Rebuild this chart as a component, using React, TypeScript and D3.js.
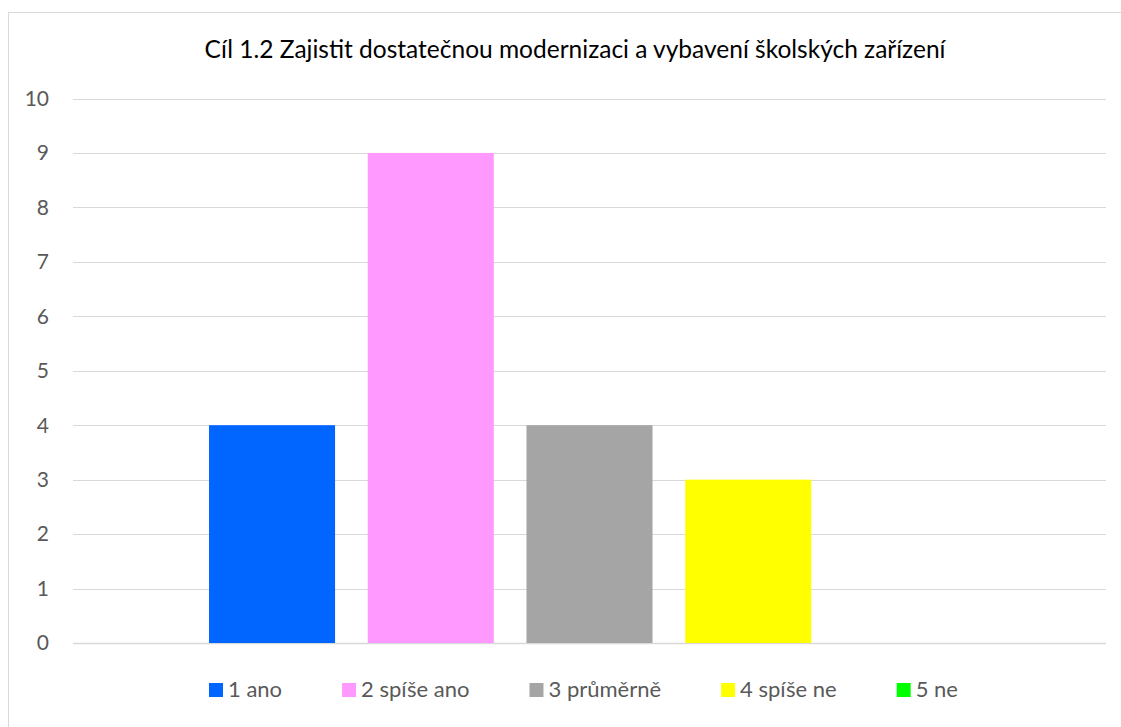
import React, { useEffect, useRef } from 'react';
import * as d3 from 'd3';

const TITLE = 'Cíl 1.2 Zajistit dostatečnou modernizaci a vybavení školských zařízení';
const seriesNames = ['1 ano', '2 spíše ano', '3 průměrně', '4 spíše ne', '5 ne'];
const seriesValues = [4, 9, 4, 3, 0];
const seriesColors = ['#0066ff', '#ff99ff', '#a5a5a5', '#ffff00', '#00ff00'];
const yTicks = [0, 1, 2, 3, 4, 5, 6, 7, 8, 9, 10];

const W = 1121;
const H = 727;
const FONT = 'Lato, "Open Sans", sans-serif';

export default function App() {
  const svgRef = useRef<SVGSVGElement>(null);

  useEffect(() => {
    const svg = d3.select(svgRef.current);
    svg.selectAll('*').remove();

    const plot = { left: 73, right: 1106, top: 98.5, bottom: 643 };

    // chart frame (runs past the window on the right and bottom)
    svg.append('rect')
      .attr('x', 8.5).attr('y', 12.5)
      .attr('width', 1140).attr('height', 740)
      .attr('fill', '#fff').attr('stroke', '#d9d9d9').attr('stroke-width', 1);

    svg.append('text')
      .attr('x', 575).attr('y', 58)
      .attr('text-anchor', 'middle')
      .attr('font-family', FONT).attr('font-size', 24.5)
      .attr('fill', '#000')
      .text(TITLE);

    const y = d3.scaleLinear().domain([0, 10]).range([plot.bottom, plot.top]);
    const x = d3.scaleBand<string>()
      .domain(seriesNames)
      .range([plot.left, plot.right])
      .paddingInner(0.206)
      .paddingOuter(0.857);

    // gridlines
    svg.append('g').selectAll('line').data(yTicks).join('line')
      .attr('x1', plot.left).attr('x2', plot.right)
      .attr('y1', d => Math.round(y(d)) + 0.5).attr('y2', d => Math.round(y(d)) + 0.5)
      .attr('stroke', '#d9d9d9').attr('stroke-width', d => (d === 0 ? 1.5 : 1));

    // y axis labels
    svg.append('g').selectAll('text').data(yTicks).join('text')
      .attr('x', 49).attr('y', d => y(d))
      .attr('dy', '0.35em')
      .attr('text-anchor', 'end')
      .attr('font-family', FONT).attr('font-size', 21)
      .attr('fill', '#595959')
      .text(d => d);

    // bars
    svg.append('g').selectAll('rect').data(seriesValues).join('rect')
      .attr('x', (_, i) => x(seriesNames[i])!)
      .attr('width', x.bandwidth())
      .attr('y', d => y(d))
      .attr('height', d => y(0) - y(d))
      .attr('fill', (_, i) => seriesColors[i]);

    // legend, items laid out by measured text width
    const legend = svg.append('g');
    let cx = 209;
    seriesNames.forEach((name, i) => {
      legend.append('rect')
        .attr('x', cx).attr('y', 683)
        .attr('width', 14).attr('height', 14)
        .attr('fill', seriesColors[i]);
      const t = legend.append('text')
        .attr('x', cx + 19).attr('y', 697)
        .attr('font-family', FONT).attr('font-size', 22)
        .attr('fill', '#595959')
        .text(name);
      const tw = (t.node() as SVGTextElement).getComputedTextLength();
      cx += 19 + tw + 60;
    });
  }, []);

  return (
    <svg ref={svgRef} width={W} height={H}
      style={{ position: 'absolute', left: 0, top: 0, display: 'block' }} />
  );
}
